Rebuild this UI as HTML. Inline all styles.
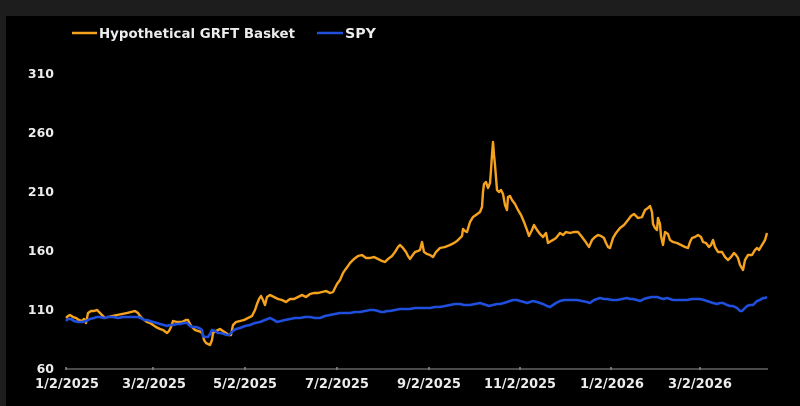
<!DOCTYPE html>
<html><head><meta charset="utf-8">
<style>
html,body{margin:0;padding:0;background:#1d1d1d;}
svg{display:block;}
text{font-family:"DejaVu Sans","Liberation Sans",sans-serif;font-weight:bold;fill:#ececec;}
</style></head>
<body>
<svg width="800" height="406" viewBox="0 0 800 406" xmlns="http://www.w3.org/2000/svg">
<rect x="0" y="0" width="800" height="406" fill="#1d1d1d"/>
<rect x="6" y="16" width="794" height="390" fill="#000"/>

<!-- legend -->
<line x1="72" y1="33" x2="97" y2="33" stroke="#f5a21e" stroke-width="2.5"/>
<text x="99" y="38" font-size="13" textLength="196" lengthAdjust="spacingAndGlyphs">Hypothetical GRFT Basket</text>
<line x1="317" y1="33" x2="343" y2="33" stroke="#1f4fdc" stroke-width="2.5"/>
<text x="345" y="38" font-size="13" textLength="31" lengthAdjust="spacingAndGlyphs">SPY</text>

<!-- y labels -->
<g font-size="12.5" text-anchor="end">
<text x="54" y="78">310</text>
<text x="54" y="137">260</text>
<text x="54" y="196">210</text>
<text x="54" y="255">160</text>
<text x="54" y="314">110</text>
<text x="54" y="373">60</text>
</g>

<!-- x axis -->
<line x1="66" y1="369" x2="768" y2="369" stroke="#4a4a4a" stroke-width="2"/>
<g stroke="#8a8a8a" stroke-width="1.5">
<line x1="66" y1="367" x2="66" y2="370"/>
<line x1="153" y1="367" x2="153" y2="370"/>
<line x1="245" y1="367" x2="245" y2="370"/>
<line x1="337" y1="367" x2="337" y2="370"/>
<line x1="429" y1="367" x2="429" y2="370"/>
<line x1="520" y1="367" x2="520" y2="370"/>
<line x1="611" y1="367" x2="611" y2="370"/>
<line x1="700" y1="367" x2="700" y2="370"/>
</g>
<g font-size="13" text-anchor="middle">
<text x="67" y="388" textLength="64" lengthAdjust="spacingAndGlyphs">1/2/2025</text>
<text x="154" y="388" textLength="64" lengthAdjust="spacingAndGlyphs">3/2/2025</text>
<text x="245" y="388" textLength="64" lengthAdjust="spacingAndGlyphs">5/2/2025</text>
<text x="337" y="388" textLength="64" lengthAdjust="spacingAndGlyphs">7/2/2025</text>
<text x="429" y="388" textLength="64" lengthAdjust="spacingAndGlyphs">9/2/2025</text>
<text x="520" y="388" textLength="72" lengthAdjust="spacingAndGlyphs">11/2/2025</text>
<text x="612" y="388" textLength="64" lengthAdjust="spacingAndGlyphs">1/2/2026</text>
<text x="700" y="388" textLength="64" lengthAdjust="spacingAndGlyphs">3/2/2026</text>
</g>

<!-- orange series -->
<polyline fill="none" stroke="#f5a21e" stroke-width="2.4" stroke-linejoin="round" points="66,318 68,316 70,315 73,317 76,318 79,320 82,321 84,319 86,323 88,313 91,311 94,311 97,310 99,312 102,315 105,318 108,317 112,316 117,315 122,314 127,313 131,312 135,311 138,313 140,316 143,319 147,322 150,323 153,325 156,327 160,329 163,330 167,333 169,331 171,327 173,321 177,322 182,322 186,320 188,320 190,324 192,327 195,330 198,331 201,332 203,335 204,340 206,343 208,344 210,345 212,340 213,333 216,331 220,329 223,331 226,333 229,335 231,335 233,325 236,322 240,321 244,320 248,318 252,316 255,310 257,304 259,299 261,296 263,300 265,305 267,297 270,295 274,297 278,299 282,300 286,302 290,299 294,299 298,297 302,295 306,297 310,294 314,293 318,293 322,292 326,291 330,293 333,292 335,288 337,284 340,280 343,273 345,270 348,266 350,263 354,259 358,256 362,255 366,258 370,258 374,257 378,259 382,261 385,262 388,259 392,256 395,252 398,247 400,245 403,248 406,252 408,256 410,259 412,256 415,252 418,251 420,250 422,242 424,252 427,254 430,255 433,257 436,252 440,248 445,247 450,245 454,243 457,241 460,238 462,236 463,229 465,231 467,232 470,222 473,217 476,215 480,212 482,207 483,192 484,184 486,182 488,188 490,183 491,170 492,155 493,142 494,155 495,165 497,190 499,192 501,190 503,194 505,205 507,210 508,197 510,196 512,200 515,204 518,210 521,215 524,222 527,230 529,236 532,230 534,225 537,230 540,234 543,237 546,233 548,243 551,241 553,240 556,238 560,233 563,235 566,232 570,233 574,232 578,232 582,237 585,241 587,244 589,247 592,240 595,237 598,235 601,236 604,238 606,243 608,247 610,248 613,238 616,233 620,228 624,225 628,220 631,216 634,214 638,218 642,217 645,210 648,208 650,206 652,212 653,224 655,228 657,230 658,218 660,224 661,236 663,245 665,232 668,234 670,240 673,242 677,243 681,245 685,247 688,248 690,242 692,238 695,237 698,235 701,237 703,242 706,243 709,247 711,245 713,240 715,247 718,252 722,252 725,257 728,260 731,257 734,253 736,255 738,258 740,265 743,270 745,260 748,255 752,255 755,250 757,248 759,250 762,245 765,240 767,233"/>

<!-- blue series -->
<polyline fill="none" stroke="#1f4fdc" stroke-width="2.6" stroke-linejoin="round" points="66,321 68,319 71,319 74,321 78,322 82,322 86,321 90,319 94,318 97,317 100,317 104,318 108,317 113,317 118,318 123,317 128,317 133,317 138,317 141,318 144,320 147,320 150,321 153,322 157,323 160,324 164,325 167,326 170,325 173,325 177,324 180,324 184,323 187,323 190,326 193,327 196,327 199,328 202,330 203,336 205,337 208,337 210,334 212,330 215,331 218,333 221,333 224,334 227,335 229,335 231,333 233,331 236,329 240,328 245,326 250,325 255,323 260,322 265,320 270,318 274,320 277,322 281,321 285,320 290,319 295,318 300,318 305,317 310,317 315,318 320,318 325,316 330,315 335,314 340,313 345,313 350,313 355,312 360,312 365,311 370,310 374,310 378,311 381,312 384,312 387,311 390,311 395,310 400,309 405,309 410,309 415,308 420,308 425,308 430,308 435,307 440,307 445,306 450,305 455,304 460,304 464,305 467,305 470,305 475,304 480,303 483,304 486,305 489,306 493,305 497,304 500,304 504,303 507,302 510,301 513,300 517,300 520,301 524,302 527,303 530,302 533,301 537,302 540,303 543,304 547,306 550,307 553,305 556,303 560,301 564,300 567,300 572,300 577,300 582,301 587,302 590,303 594,300 597,299 600,298 604,299 607,299 612,300 617,300 622,299 627,298 630,299 633,299 637,300 640,301 644,299 647,298 652,297 657,297 660,298 663,299 667,298 670,299 673,300 678,300 683,300 687,300 692,299 697,299 700,299 704,300 707,301 710,302 713,303 717,304 720,303 723,303 727,305 730,306 733,306 735,307 737,308 738,309 740,311 742,311 743,310 745,308 747,306 750,305 753,305 755,303 757,301 760,300 763,298 765,298 767,297"/>
</svg>
</body></html>
